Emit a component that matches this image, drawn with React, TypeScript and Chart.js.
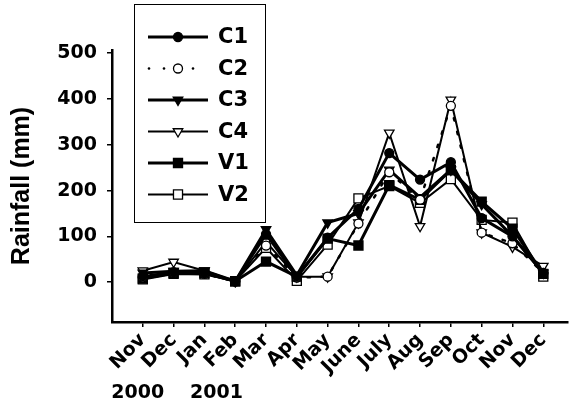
import React, { useEffect, useRef } from 'react';
import { Chart, registerables } from 'chart.js';

Chart.register(...registerables);

const months = ['Nov', 'Dec', 'Jan', 'Feb', 'Mar', 'Apr', 'May', 'June', 'July', 'Aug', 'Sep', 'Oct', 'Nov', 'Dec'];
const yearText = ['2000', '2001'];
const yearAt = [1, 3];
const yTicks = [0, 100, 200, 300, 400, 500];

const C1 = [12, 22, 20, 2, 105, 12, 97, 160, 282, 224, 262, 140, 100, 20];
const C2 = [10, 20, 18, 2, 80, 10, 12, 128, 240, 180, 385, 108, 85, 20];
const C3 = [20, 24, 25, 2, 115, 15, 130, 150, 245, 185, 245, 170, 100, 20];
const C4 = [25, 44, 25, 2, 88, 12, 12, 130, 326, 122, 398, 108, 77, 35];
const V1 = [8, 20, 20, 2, 45, 12, 95, 80, 212, 180, 245, 176, 117, 18];
const V2 = [6, 18, 17, 2, 75, 3, 82, 183, 210, 173, 225, 136, 130, 12];

type SeriesStyle = {
  label: string;
  values: number[];
  pointStyle: 'circle' | 'triangle' | 'rect';
  fill: string;
  radius: number;
  lineWidth: number;
  dash: number[];
  rotation: number;
};

const series: SeriesStyle[] = [
  { label: 'C1', values: C1, pointStyle: 'circle', fill: '#000', radius: 4.5, lineWidth: 3, dash: [], rotation: 0 },
  { label: 'C2', values: C2, pointStyle: 'circle', fill: '#fff', radius: 4.5, lineWidth: 2.5, dash: [2.5, 11.5], rotation: 0 },
  { label: 'C3', values: C3, pointStyle: 'triangle', fill: '#000', radius: 5.5, lineWidth: 3, dash: [], rotation: 180 },
  { label: 'C4', values: C4, pointStyle: 'triangle', fill: '#fff', radius: 5.5, lineWidth: 2, dash: [], rotation: 180 },
  { label: 'V1', values: V1, pointStyle: 'rect', fill: '#000', radius: 6.4, lineWidth: 3, dash: [], rotation: 0 },
  { label: 'V2', values: V2, pointStyle: 'rect', fill: '#fff', radius: 6.4, lineWidth: 2, dash: [], rotation: 0 },
];

function drawMarker(ctx: CanvasRenderingContext2D, s: SeriesStyle, x: number, y: number) {
  const r = s.radius;
  ctx.save();
  ctx.setLineDash([]);
  ctx.beginPath();
  if (s.pointStyle === 'circle') {
    ctx.arc(x, y, r, 0, Math.PI * 2);
  } else if (s.pointStyle === 'triangle') {
    let rad = (s.rotation * Math.PI) / 180;
    ctx.moveTo(x + Math.sin(rad) * r, y - Math.cos(rad) * r);
    rad += (2 * Math.PI) / 3;
    ctx.lineTo(x + Math.sin(rad) * r, y - Math.cos(rad) * r);
    rad += (2 * Math.PI) / 3;
    ctx.lineTo(x + Math.sin(rad) * r, y - Math.cos(rad) * r);
    ctx.closePath();
  } else {
    const h = r * Math.SQRT1_2;
    ctx.rect(x - h, y - h, 2 * h, 2 * h);
  }
  ctx.fillStyle = s.fill;
  ctx.fill();
  ctx.lineWidth = 1.3;
  ctx.strokeStyle = '#000';
  ctx.stroke();
  ctx.restore();
}

const legendPlugin = {
  id: 'customLegend',
  afterDraw(chart: any) {
    const ctx: CanvasRenderingContext2D = chart.ctx;
    ctx.save();
    const bx = 134.5, by = 4.5, bw = 131, bh = 218;
    ctx.fillStyle = '#fff';
    ctx.fillRect(bx, by, bw, bh);
    ctx.lineWidth = 1;
    ctx.strokeStyle = '#000';
    ctx.strokeRect(bx, by, bw, bh);
    series.forEach((s, i) => {
      const y = 37 + i * 31.5;
      ctx.save();
      ctx.strokeStyle = '#000';
      ctx.lineWidth = s.lineWidth;
      if (s.dash.length) {
        ctx.fillStyle = '#000';
        [149, 164, 193].forEach((dx) => {
          ctx.beginPath();
          ctx.arc(dx, y, 1.3, 0, Math.PI * 2);
          ctx.fill();
        });
      } else {
        ctx.beginPath();
        ctx.moveTo(148, y);
        ctx.lineTo(208, y);
        ctx.stroke();
      }
      ctx.restore();
      drawMarker(ctx, s, 178, y);
      ctx.fillStyle = '#000';
      ctx.font = 'bold 21px "DejaVu Sans"';
      ctx.textAlign = 'left';
      ctx.textBaseline = 'middle';
      ctx.fillText(s.label, 218, y + 1);
    });
    // year labels under the month ticks
    const xs = chart.scales.x;
    ctx.font = 'bold 19px "DejaVu Sans"';
    ctx.textAlign = 'center';
    ctx.textBaseline = 'alphabetic';
    ctx.fillStyle = '#000';
    yearText.forEach((t, i) => {
      const off = i === 0 ? -5 : 12;
      ctx.fillText(t, xs.getPixelForValue(yearAt[i]) + off, 398);
    });
    ctx.restore();
  },
};

export default function App() {
  const ref = useRef<HTMLCanvasElement | null>(null);
  useEffect(() => {
    if (!ref.current) return;
    const chart = new Chart(ref.current, {
      type: 'line',
      data: {
        datasets: series.map((s) => ({
          label: s.label,
          data: s.values.map((v, i) => ({ x: i + 1, y: v })),
          borderColor: '#000',
          backgroundColor: s.fill,
          borderWidth: s.lineWidth,
          borderDash: s.dash,
          borderCapStyle: s.dash.length ? 'round' : 'butt',
          pointStyle: s.pointStyle,
          pointRotation: s.rotation,
          pointRadius: s.radius,
          pointBorderWidth: 1.3,
          pointBorderColor: '#000',
          pointBackgroundColor: s.fill,
          tension: 0,
          fill: false,
        })) as any,
      },
      options: {
        animation: false,
        responsive: false,
        layout: { padding: { top: 50, right: 0, left: 0, bottom: 0 } },
        plugins: { legend: { display: false }, tooltip: { enabled: false } },
        scales: {
          x: {
            type: 'linear',
            min: 0,
            max: 14.78,
            afterBuildTicks: (s: any) => {
              s.ticks = months.map((_, i) => ({ value: i + 1 }));
            },
            afterFit: (s: any) => {
              s.height = 81;
            },
            ticks: {
              autoSkip: false,
              minRotation: 45,
              maxRotation: 45,
              padding: 2,
              color: '#000',
              font: { family: 'DejaVu Sans', weight: 'bold', size: 19 },
              callback: (v: any) => months[Math.round(v) - 1] ?? '',
            },
            grid: { display: true, drawOnChartArea: false, drawTicks: true, tickLength: 5, color: '#000', lineWidth: 1.5 },
            border: { display: true, color: '#000', width: 2.5 },
          },
          y: {
            type: 'linear',
            min: -87,
            max: 507,
            afterBuildTicks: (s: any) => {
              s.ticks = yTicks.map((v) => ({ value: v }));
            },
            afterFit: (s: any) => {
              s.width = 112;
            },
            ticks: {
              padding: 10,
              color: '#000',
              font: { family: 'DejaVu Sans', weight: 'bold', size: 19 },
            },
            title: {
              display: true,
              text: 'Rainfall (mm)',
              color: '#000',
              font: { family: 'Liberation Sans', weight: 'bold', size: 25 },
              padding: { top: 7, bottom: 0 },
            },
            grid: { display: true, drawOnChartArea: false, drawTicks: true, tickLength: 5, color: '#000', lineWidth: 1.5 },
            border: { display: true, color: '#000', width: 2.5 },
          },
        },
      } as any,
      plugins: [legendPlugin],
    });
    return () => chart.destroy();
  }, []);
  return (
    <div style={{ position: 'absolute', left: 0, top: 0, width: 575, height: 403, background: '#fff' }}>
      <canvas ref={ref} width={575} height={403} style={{ display: 'block' }} />
    </div>
  );
}
